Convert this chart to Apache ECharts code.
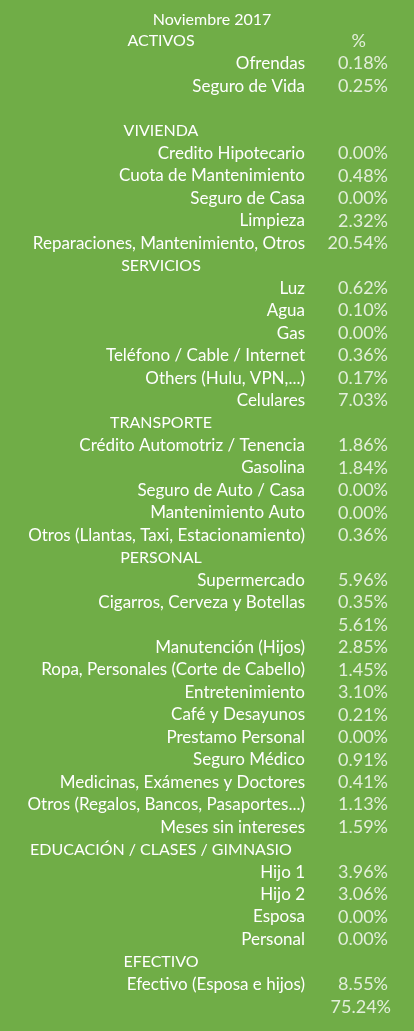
<!DOCTYPE html>
<html>
<head>
<meta charset="utf-8">
<script src="https://cdn.jsdelivr.net/npm/echarts@6/dist/echarts.min.js"></script>
<style>html,body{margin:0;padding:0;background:#70ad47}#chart{width:414px;height:1031px}</style>
</head>
<body>
<div id="chart"></div>
<script>
var titleText = 'Noviembre 2017';
var headers = ['ACTIVOS', '', '', '', 'VIVIENDA', '', '', '', '', '', 'SERVICIOS', '', '', '', '', '', '', 'TRANSPORTE', '', '', '', '', '', 'PERSONAL', '', '', '', '', '', '', '', '', '', '', '', '', 'EDUCACIÓN / CLASES / GIMNASIO', '', '', '', '', 'EFECTIVO', '', ''];
var labels = ['', 'Ofrendas', 'Seguro de Vida', '', '', 'Credito Hipotecario', 'Cuota de Mantenimiento', 'Seguro de Casa', 'Limpieza', 'Reparaciones, Mantenimiento, Otros', '', 'Luz', 'Agua', 'Gas', 'Teléfono / Cable / Internet', 'Others (Hulu, VPN,...)', 'Celulares', '', 'Crédito Automotriz / Tenencia', 'Gasolina', 'Seguro de Auto / Casa', 'Mantenimiento Auto', 'Otros (Llantas, Taxi, Estacionamiento)', '', 'Supermercado', 'Cigarros, Cerveza y Botellas', '', 'Manutención (Hijos)', 'Ropa, Personales (Corte de Cabello)', 'Entretenimiento', 'Café y Desayunos', 'Prestamo Personal', 'Seguro Médico', 'Medicinas, Exámenes y Doctores', 'Otros (Regalos, Bancos, Pasaportes...)', 'Meses sin intereses', '', 'Hijo 1', 'Hijo 2', 'Esposa', 'Personal', '', 'Efectivo (Esposa e hijos)', ''];
var values = ['%', '0.18%', '0.25%', '', '', '0.00%', '0.48%', '0.00%', '2.32%', '20.54%', '', '0.62%', '0.10%', '0.00%', '0.36%', '0.17%', '7.03%', '', '1.86%', '1.84%', '0.00%', '0.00%', '0.36%', '', '5.96%', '0.35%', '5.61%', '2.85%', '1.45%', '3.10%', '0.21%', '0.00%', '0.91%', '0.41%', '1.13%', '1.59%', '', '3.96%', '3.06%', '0.00%', '0.00%', '', '8.55%', '75.24%'];

var font = 'Lato';
var chart = echarts.init(document.getElementById('chart'));
var data = [];
for (var i = 0; i < values.length; i++) {
    if (values[i] === '') continue;
    var item = { value: [1, i], text: values[i] };
    if (values[i] === '%') item.label = { offset: [-22, 0] };
    if (i === values.length - 1) item.label = { offset: [3, 0] };
    data.push(item);
}
chart.setOption({
    backgroundColor: '#70ad47',
    title: {
        text: titleText, left: 207, top: 7, textAlign: 'center',
        textStyle: { color: '#fff', fontFamily: font, fontWeight: 'normal', fontSize: 16 }
    },
    grid: { left: 313, right: 26, top: 30, bottom: 13 },
    xAxis: { type: 'value', min: 0, max: 1, show: false },
    yAxis: [
        {
            type: 'category', inverse: true, data: labels,
            axisLine: { show: false }, axisTick: { show: false }, splitLine: { show: false },
            axisLabel: { color: '#fff', fontFamily: font, fontSize: 17, margin: 8, interval: 0 }
        },
        {
            type: 'category', inverse: true, data: headers, position: 'left', offset: 152,
            axisLine: { show: false }, axisTick: { show: false }, splitLine: { show: false },
            axisLabel: { color: '#fff', fontFamily: font, fontSize: 16, margin: 0, align: 'center', interval: 0 }
        }
    ],
    series: [{
        type: 'scatter', symbolSize: 0, data: data, silent: true,
        label: {
            show: true, position: 'left', distance: 0, color: '#fff',
            fontFamily: font, fontSize: 18,
            formatter: function (p) { return p.data.text; }
        }
    }]
});
</script>
</body>
</html>
